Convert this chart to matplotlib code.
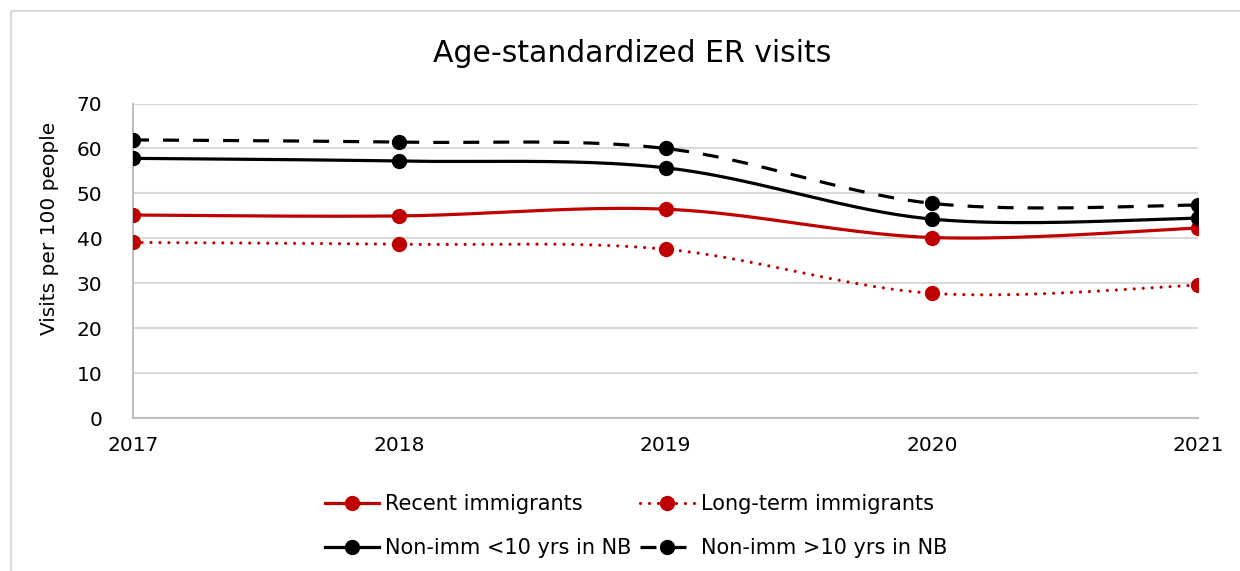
import numpy as np
import matplotlib
matplotlib.use("Agg")
import matplotlib.pyplot as plt
from matplotlib.lines import Line2D

years = [2017, 2018, 2019, 2020, 2021]
recent = [45.2, 45.0, 46.5, 40.2, 42.3]
long_term = [39.1, 38.7, 37.6, 27.8, 29.6]
non_imm_lt10 = [57.8, 57.2, 55.7, 44.3, 44.5]
non_imm_gt10 = [61.9, 61.4, 60.0, 47.8, 47.4]

labels = ["Recent immigrants", "Long-term immigrants",
          "Non-imm <10 yrs in NB", "Non-imm >10 yrs in NB"]

RED = "#C00000"
BLACK = "#000000"

plt.rcParams['font.family'] = ['DejaVu Sans']


def smooth(x, y, n=40):
    """Catmull-Rom style Bezier smoothing through the data points (like Excel's smoothed line)."""
    x = np.asarray(x, float)
    y = np.asarray(y, float)
    pts = np.column_stack([x, y])
    out = []
    m = len(pts)
    for i in range(m - 1):
        p0 = pts[i - 1] if i > 0 else pts[i]
        p1 = pts[i]
        p2 = pts[i + 1]
        p3 = pts[i + 2] if i + 2 < m else pts[i + 1]
        c1 = p1 + (p2 - p0) / 6.0
        c2 = p2 - (p3 - p1) / 6.0
        t = np.linspace(0, 1, n)[:, None]
        seg = ((1 - t) ** 3) * p1 + 3 * ((1 - t) ** 2) * t * c1 + 3 * (1 - t) * t ** 2 * c2 + t ** 3 * p2
        if i > 0:
            seg = seg[1:]
        out.append(seg)
    out = np.vstack(out)
    return out[:, 0], out[:, 1]


W, H = 1240, 571
fig = plt.figure(figsize=(W / 100, H / 100), dpi=100)
ax = fig.add_axes([133 / W, 1 - 418.3 / H, (1198 - 133) / W, (418.3 - 103.5) / H])

lw = 2.3
ms = 10
dash_style = (0, (5.0, 4.4))
dot_style = (0, (0.01, 2.8))

series = [
    (recent, RED, '-'),
    (long_term, RED, dot_style),
    (non_imm_lt10, BLACK, '-'),
    (non_imm_gt10, BLACK, dash_style),
]

handles = []
for (vals, col, ls), lab in zip(series, labels):
    sx, sy = smooth(years, vals)
    ax.plot(sx, sy, color=col, lw=lw, linestyle=ls, dash_capstyle='round' if ls is dot_style else 'butt',
            solid_capstyle='butt', zorder=3)
    ax.plot(years, vals, linestyle='none', marker='o', ms=ms, color=col, zorder=4)
    handles.append(Line2D([0], [0], color=col, lw=lw, linestyle=ls, marker='o', ms=ms,
                          dash_capstyle='round' if ls is dot_style else 'butt'))

ax.set_xlim(2017, 2021)
ax.set_ylim(0, 70)
ax.set_yticks(range(0, 71, 10))
ax.set_xticks(years)
ax.set_xticklabels([str(y) for y in years])
ax.tick_params(axis='both', length=0, labelsize=14.5, colors='#000000')
ax.tick_params(axis='x', pad=13)
ax.tick_params(axis='y', pad=22)
ax.yaxis.grid(True, color='#d9d9d9', lw=1.5)
ax.set_axisbelow(True)
for s in ['top', 'right']:
    ax.spines[s].set_visible(False)
for s in ['left', 'bottom']:
    ax.spines[s].set_color('#bfbfbf')
    ax.spines[s].set_linewidth(1.5)
for lbl in ax.get_xticklabels():
    lbl.set_clip_on(False)

fig.text(632 / W, 1 - 53 / H, "Age-standardized ER visits", ha='center', va='center', fontsize=21.5)
fig.text(50 / W, 1 - 228 / H, "Visits per 100 people", ha='center', va='center', rotation=90, fontsize=14.5)

# legend: rows = (Recent, Long-term), (Non-imm <10, Non-imm >10); matplotlib fills column-wise
order = [0, 2, 1, 3]
leg = fig.legend([handles[i] for i in order], [labels[i] for i in order], ncol=2, loc='center',
                 bbox_to_anchor=(636 / W, 1 - 526 / H),
                 frameon=False, fontsize=15, handlelength=2.6, handletextpad=0.3,
                 columnspacing=0.4, labelspacing=1.15)

# outer chart border (light gray), top & left visible
fig.add_artist(Line2D([11 / W, 11 / W, 1.0], [0.0, 1 - 11 / H, 1 - 11 / H],
                      transform=fig.transFigure, color='#d9d9d9', lw=1.5))

fig.savefig("out.png", dpi=100)
